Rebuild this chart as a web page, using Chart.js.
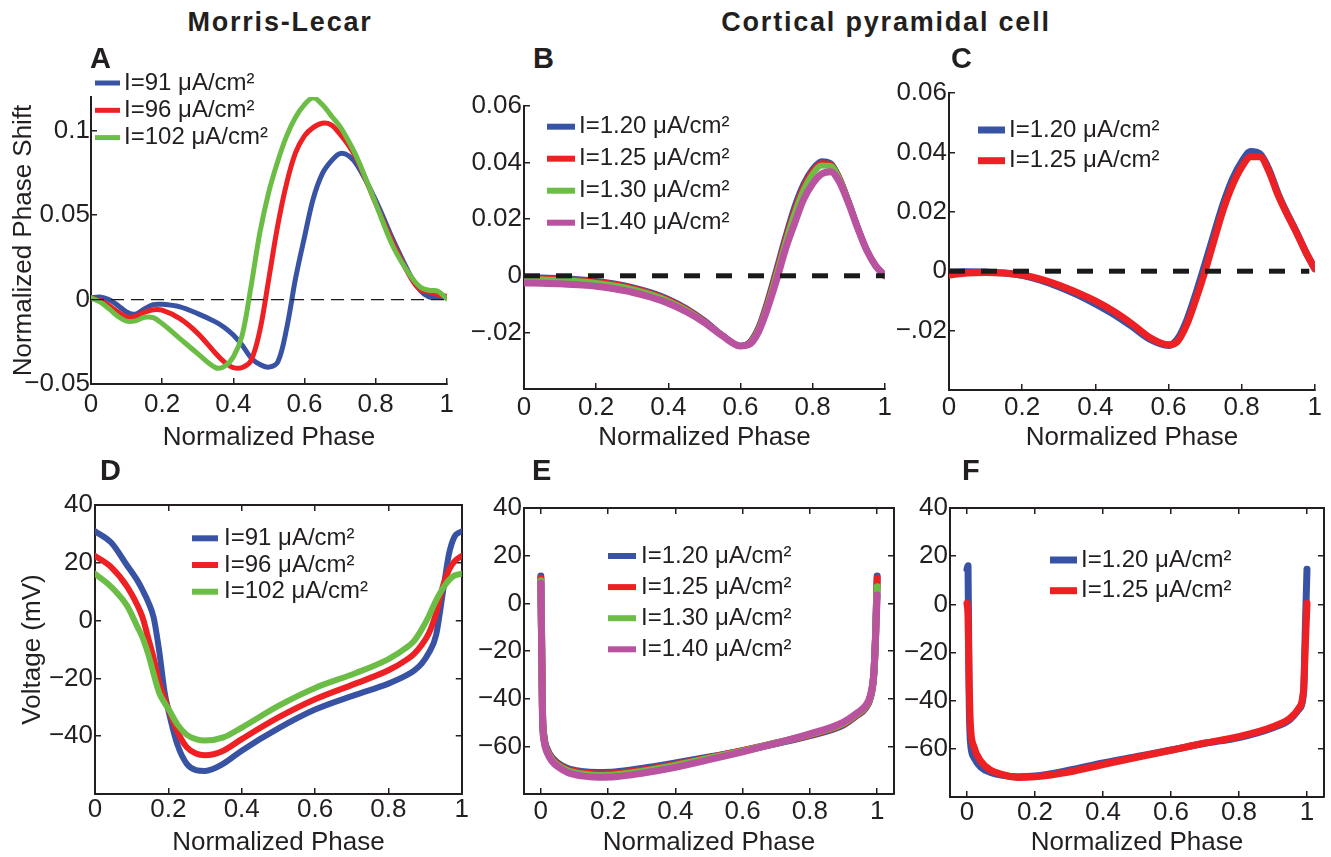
<!DOCTYPE html>
<html><head><meta charset="utf-8">
<script src="https://cdn.jsdelivr.net/npm/chart.js@4.4.0/dist/chart.umd.min.js"></script>
<style>
html,body{margin:0;padding:0;background:#fff;}
body{width:1331px;height:857px;overflow:hidden;position:relative;font-family:"Liberation Sans",Arial,Helvetica,sans-serif;color:#231f20;}
canvas{position:absolute;}
.hdr{position:absolute;width:600px;text-align:center;font-weight:bold;font-size:27px;line-height:27px;letter-spacing:1.8px;z-index:5;}
.lt{position:absolute;font-weight:bold;font-size:29px;line-height:29px;z-index:5;}
</style></head>
<body>
<div class="hdr" style="left:-20px;top:9px">Morris-Lecar</div>
<div class="hdr" style="left:586px;top:9px">Cortical pyramidal cell</div>
<div class="lt" style="left:90px;top:44px">A</div>
<div class="lt" style="left:533px;top:44px">B</div>
<div class="lt" style="left:951px;top:44px">C</div>
<div class="lt" style="left:100px;top:456px">D</div>
<div class="lt" style="left:532px;top:456px">E</div>
<div class="lt" style="left:962px;top:456px">F</div>
<script>
// ---------------- data ----------------
const BLUE = '#3953a4', RED = '#ed2024', GREEN = '#6cbd45', MAGENTA = '#b9529f';
const INK = '#231f20';
const FONT = '"Liberation Sans", Arial, Helvetica, sans-serif';

// Panel A : Morris-Lecar PRC
const phaseA = [0,0.025,0.05,0.075,0.1,0.125,0.15,0.175,0.2,0.25,0.3,0.35,0.375,0.4,0.425,0.45,0.475,0.5,0.525,0.55,0.575,0.6,0.625,0.65,0.675,0.7,0.725,0.75,0.8,0.85,0.9,0.925,0.95,0.975,1];
const shiftA91 = [0.001,0.0015,0,-0.0034,-0.0073,-0.0087,-0.0055,-0.003,-0.0028,-0.0043,-0.0083,-0.0132,-0.0165,-0.021,-0.027,-0.0345,-0.0385,-0.04,-0.037,-0.017,0.0126,0.037,0.06,0.0745,0.082,0.0865,0.085,0.079,0.059,0.035,0.0134,0.0055,0.0016,0.0015,0.0016];
const shiftA96 = [0.001,-0.0004,-0.0034,-0.0073,-0.0103,-0.0099,-0.0075,-0.006,-0.0063,-0.0113,-0.02,-0.0318,-0.037,-0.0403,-0.0402,-0.036,-0.018,0.0126,0.044,0.069,0.087,0.097,0.102,0.1045,0.1035,0.098,0.091,0.082,0.057,0.033,0.0125,0.006,0.0045,0.003,0.002];
const shiftA102 = [0.001,-0.0014,-0.0053,-0.0099,-0.0128,-0.0126,-0.0105,-0.0107,-0.0142,-0.0231,-0.032,-0.0403,-0.0395,-0.034,-0.021,0.008,0.04,0.064,0.082,0.097,0.108,0.1155,0.1195,0.1155,0.109,0.1024,0.0935,0.083,0.057,0.031,0.0134,0.0075,0.0055,0.005,0.0005];
const labelsML = ['I=91 \u03bcA/cm\u00b2','I=96 \u03bcA/cm\u00b2','I=102 \u03bcA/cm\u00b2'];

// Panel B : cortical PRC, four currents
const phaseB = [0,0.05,0.1,0.15,0.2,0.25,0.3,0.35,0.4,0.45,0.5,0.55,0.6,0.625,0.65,0.675,0.7,0.725,0.75,0.775,0.8,0.825,0.85,0.875,0.9,0.925,0.95,0.975,1];
const shiftB120 = [-0.0005,-0.0006,-0.0008,-0.0012,-0.0018,-0.0027,-0.004,-0.0058,-0.0082,-0.0115,-0.0158,-0.021,-0.0248,-0.0235,-0.0182,-0.0088,0.0025,0.014,0.0245,0.0325,0.0378,0.0405,0.0398,0.0345,0.0262,0.0172,0.0092,0.0035,0.0003];
const shiftB125 = [-0.0008,-0.0009,-0.0011,-0.0015,-0.0021,-0.003,-0.0043,-0.0061,-0.0085,-0.0118,-0.016,-0.0211,-0.0248,-0.0237,-0.0186,-0.0095,0.0015,0.013,0.0232,0.0315,0.037,0.0398,0.0394,0.0343,0.0261,0.0171,0.0091,0.0034,0.0002];
const shiftB130 = [-0.0012,-0.0013,-0.0015,-0.0019,-0.0025,-0.0034,-0.0047,-0.0065,-0.0089,-0.0121,-0.0162,-0.0211,-0.0248,-0.0239,-0.019,-0.0103,0.0005,0.0118,0.022,0.0303,0.036,0.039,0.0388,0.034,0.026,0.017,0.009,0.0034,0.0002];
const shiftB140 = [-0.0025,-0.0026,-0.0028,-0.0032,-0.0037,-0.0046,-0.0058,-0.0075,-0.0097,-0.0127,-0.0165,-0.0212,-0.0248,-0.0242,-0.0198,-0.0115,-0.0015,0.0095,0.0185,0.027,0.0325,0.036,0.0368,0.033,0.0255,0.0168,0.009,0.0035,0];
const labelsCort4 = ['I=1.20 \u03bcA/cm\u00b2','I=1.25 \u03bcA/cm\u00b2','I=1.30 \u03bcA/cm\u00b2','I=1.40 \u03bcA/cm\u00b2'];

// Panel C : cortical PRC, two currents
const phaseC = [0,0.05,0.1,0.15,0.2,0.25,0.3,0.35,0.4,0.45,0.5,0.55,0.6,0.625,0.65,0.675,0.7,0.725,0.75,0.775,0.8,0.825,0.85,0.875,0.9,0.925,0.95,0.975,1];
const shiftC120 = [-0.0003,-0.0002,-0.0003,-0.0006,-0.0014,-0.003,-0.0052,-0.0079,-0.011,-0.0145,-0.0186,-0.023,-0.025,-0.0228,-0.0165,-0.0075,0.0025,0.0128,0.0228,0.031,0.0368,0.0403,0.0395,0.0342,0.026,0.0193,0.0132,0.0066,0.0009];
const shiftC125 = [-0.0013,-0.0006,-0.0004,-0.0006,-0.0013,-0.0027,-0.0047,-0.0072,-0.01,-0.0135,-0.0177,-0.0224,-0.0248,-0.0236,-0.018,-0.0095,0,0.0105,0.0208,0.029,0.035,0.0385,0.0385,0.0335,0.0255,0.019,0.013,0.0065,0.0008];
const labelsCort2 = ['I=1.20 \u03bcA/cm\u00b2','I=1.25 \u03bcA/cm\u00b2'];

// Panel D : Morris-Lecar voltage
const phaseD = [0,0.044,0.088,0.115,0.13,0.145,0.16,0.175,0.19,0.2,0.225,0.25,0.275,0.3,0.35,0.4,0.5,0.6,0.71,0.8,0.85,0.87,0.89,0.91,0.93,0.95,0.965,0.98,1];
const voltD91 = [30.9,27,19,14,10.5,6.5,1,-10.5,-25,-31,-43,-49.5,-51.7,-52,-49.5,-45,-37.3,-30.8,-25.7,-21.8,-18.9,-17.3,-15,-11.2,-5,11,23,29,30.9];
const voltD96 = [22.4,18.5,11.7,5.5,1,-6,-13,-21.5,-27,-30.5,-38.5,-43.8,-46,-46.6,-45,-41,-33.5,-27.2,-21.8,-17.2,-13.5,-11.5,-8.5,-4.5,2.5,12.5,17.5,20.5,22.4];
const voltD102 = [16.2,11.7,5,-2,-6,-11.5,-18.5,-25,-28.5,-30.5,-36,-39.5,-41,-41.5,-40.4,-37,-29.5,-23.3,-18.2,-13.3,-9.3,-7,-3.2,1.5,7,11.5,14,15.6,16.2];

// Panel E : cortical voltage, four currents
const phaseE = [0,0.002,0.005,0.01,0.02,0.035,0.05,0.08,0.12,0.17,0.22,0.3,0.4,0.5,0.6,0.7,0.8,0.9,0.94,0.965,0.98,0.99,0.995,1];
const voltE120 = [11.5,-10,-45,-56,-61.5,-65,-67,-69.3,-70.5,-71,-70.8,-69.3,-67,-64.5,-61.8,-58.8,-55.5,-51,-47,-44,-39.5,-30,-14,11.5];
const voltE125 = [10.5,-11,-46,-57,-62,-65.5,-67.5,-69.8,-71,-71.6,-71.4,-70,-67.6,-64.8,-61.8,-58.6,-55.2,-50.6,-46.7,-43.7,-39.2,-29.7,-14.5,10.5];
const voltE130 = [9.5,-12,-47,-57.5,-62.5,-66,-68,-70.3,-71.6,-72.2,-72,-70.5,-68,-65,-62,-58.6,-55,-50.3,-46.4,-43.4,-38.9,-29.4,-15,7];
const voltE140 = [8.5,-13,-48,-58,-63,-66.5,-68.5,-71,-72.4,-73,-72.8,-71.3,-68.8,-65.6,-62.3,-58.7,-54.8,-49.8,-46,-43,-38.5,-29,-15,3.5];

// Panel F : cortical voltage, two currents
const phaseF = [0,0.003,0.006,0.01,0.02,0.04,0.07,0.1,0.15,0.2,0.3,0.4,0.5,0.6,0.7,0.8,0.9,0.95,0.975,0.99,0.995,1];
const voltF120 = [14.6,16,-35,-57,-63.5,-67.5,-69.8,-70.9,-71.6,-71.3,-68.9,-65.9,-63.2,-60.5,-57.7,-55.3,-51.2,-47.8,-43.8,-36.3,-10.5,14.6];
const voltF125 = [0.4,-5,-30,-50,-59,-65,-68.9,-70.5,-71.9,-71.6,-69.6,-66.5,-63.5,-60.6,-57.6,-54.9,-50.8,-47.3,-43.3,-35.5,-17,0.4];

// ticks
const xTicks01 = [0,0.2,0.4,0.6,0.8,1];
const xTickLabels01 = ['0','0.2','0.4','0.6','0.8','1'];
const yTicksA = [-0.05,0,0.05,0.1];
const yTickLabelsA = ['\u22120.05','0','0.05','0.1'];
const yTicksBC = [-0.02,0,0.02,0.04,0.06];
const yTickLabelsBC = ['\u2212.02','0','0.02','0.04','0.06'];
const yTicksD = [-40,-20,0,20,40];
const yTickLabelsD = ['\u221240','\u221220','0','20','40'];
const yTicksEF = [-60,-40,-20,0,20,40];
const yTickLabelsEF = ['\u221260','\u221240','\u221220','0','20','40'];

// ---------------- drawing ----------------
const inlineLegend = {
  id: 'inlineLegend',
  afterDraw(chart, args, o) {
    const items = chart.data.datasets.filter(d => d.label);
    const ctx = chart.ctx;
    ctx.save();
    ctx.font = '24px ' + FONT;
    ctx.textBaseline = 'middle';
    ctx.textAlign = 'left';
    items.forEach((d, k) => {
      const y = o.y + k * o.dy;
      ctx.strokeStyle = d.borderColor;
      ctx.lineWidth = o.lw;
      ctx.lineCap = 'butt';
      ctx.beginPath(); ctx.moveTo(o.x, y); ctx.lineTo(o.x + o.w, y); ctx.stroke();
      ctx.fillStyle = INK;
      ctx.fillText(d.label, o.x + o.w + o.gap, y);
    });
    ctx.restore();
  }
};

function pts(xs, ys) { return xs.map((x, i) => ({x: x, y: ys[i]})); }
function labelFor(vals, labs) {
  return v => { const i = vals.findIndex(t => Math.abs(t - v) < 1e-9); return i < 0 ? '' : labs[i]; };
}
function tickSetter(vals) { return s => { s.ticks = vals.map(v => ({value: v})); }; }

function makePanel(p) {
  const [L, T, R, B] = p.area;
  const cl = L - p.W, ct = T - p.padTop;
  const cw = p.W + (R - L) + p.padRight, ch = p.padTop + (B - T) + p.H;
  const cv = document.createElement('canvas');
  cv.width = cw; cv.height = ch;
  cv.style.left = cl + 'px'; cv.style.top = ct + 'px';
  cv.style.width = cw + 'px'; cv.style.height = ch + 'px';
  document.body.appendChild(cv);

  const n = p.series.length;
  const datasets = p.series.map((s, i) => ({
    label: s.label, data: pts(s.x, s.y), borderColor: s.color, backgroundColor: s.color,
    borderWidth: s.width, pointRadius: 0, fill: false,
    cubicInterpolationMode: p.tension ? 'default' : 'monotone', tension: p.tension || 0,
    borderJoinStyle: 'round', borderCapStyle: 'round', order: n - i + 1
  }));
  if (p.zero) {
    datasets.push({label: '', data: [{x: p.zero.x0, y: 0}, {x: p.zero.x1, y: 0}], borderColor: '#1a1a1a',
      borderWidth: p.zero.width, borderDash: p.zero.dash, pointRadius: 0, fill: false, order: 0, tension: 0});
  }
  const grid = {drawOnChartArea: false, drawTicks: true, tickLength: -6, color: INK, lineWidth: 1.5};
  const border = {display: true, color: INK, width: 2};
  const tickFont = {family: FONT, size: 26, lineHeight: 1};
  const scales = {
    x: {type: 'linear', position: 'bottom', min: p.xMin, max: p.xMax,
      afterFit: s => { s.height = p.H; }, afterBuildTicks: tickSetter(xTicks01),
      ticks: {autoSkip: false, maxRotation: 0, minRotation: 0, padding: p.xTickPad, font: tickFont, color: INK,
        callback: labelFor(xTicks01, xTickLabels01)},
      grid: grid, border: border,
      title: {display: true, text: 'Normalized Phase', color: INK, font: {family: FONT, size: 26, lineHeight: 1},
        padding: {top: 0, bottom: p.xTitlePad}}},
    y: {type: 'linear', position: 'left', min: p.yMin, max: p.yMax,
      afterFit: s => { s.width = p.W; }, afterBuildTicks: tickSetter(p.yTicks),
      ticks: {autoSkip: false, padding: p.yTickPad, font: tickFont, color: INK, callback: labelFor(p.yTicks, p.yLabels)},
      grid: grid, border: border,
      title: {display: !!p.yTitle, text: p.yTitle || '', color: INK, font: {family: FONT, size: 26, lineHeight: 1},
        padding: {top: p.yTitlePad || 0, bottom: 0}}}
  };
  if (p.box) {
    scales.x2 = {type: 'linear', position: 'top', min: p.xMin, max: p.xMax,
      afterFit: s => { s.height = 0; }, afterBuildTicks: tickSetter(xTicks01),
      ticks: {display: false}, grid: grid, border: border};
    scales.y2 = {type: 'linear', position: 'right', min: p.yMin, max: p.yMax,
      afterFit: s => { s.width = 0; }, afterBuildTicks: tickSetter(p.yTicks),
      ticks: {display: false}, grid: grid, border: border};
  }
  const lg = p.legend;
  new Chart(cv, {
    type: 'line',
    data: {datasets: datasets},
    options: {
      responsive: false, animation: false, devicePixelRatio: 1,
      layout: {padding: {left: 0, top: p.padTop, right: p.padRight, bottom: 0}},
      plugins: {legend: {display: false}, tooltip: {enabled: false},
        inlineLegend: {x: lg.x - cl, y: lg.y - ct, dy: lg.dy, w: lg.w, gap: lg.gap, lw: lg.lw}},
      scales: scales
    },
    plugins: [inlineLegend]
  });
}

Chart.defaults.font.family = FONT;
Chart.defaults.color = INK;

// A
makePanel({area: [91, 97, 456, 384], W: 91, H: 70, padTop: 30, padRight: 12, tension: 0.35,
  xMin: 0, xMax: 1, yMin: -0.05, yMax: 0.12, yTicks: yTicksA, yLabels: yTickLabelsA,
  xTickPad: 14, yTickPad: 7, xTitlePad: 3, yTitle: 'Normalized Phase Shift', yTitlePad: 11,
  series: [
    {x: phaseA, y: shiftA91, label: labelsML[0], color: BLUE, width: 5},
    {x: phaseA, y: shiftA96, label: labelsML[1], color: RED, width: 5},
    {x: phaseA, y: shiftA102, label: labelsML[2], color: GREEN, width: 5}],
  zero: {x0: 0, x1: 1, width: 1.3, dash: [13, 7]},
  legend: {x: 95, y: 83, dy: 27.3, w: 25, gap: 4, lw: 5}});

// B
makePanel({area: [524, 101, 892, 389], W: 80, H: 70, padTop: 16, padRight: 12,
  xMin: 0, xMax: 1, yMin: -0.04, yMax: 0.06, yTicks: yTicksBC, yLabels: yTickLabelsBC,
  xTickPad: 12, yTickPad: 8, xTitlePad: 8,
  series: [
    {x: phaseB, y: shiftB120, label: labelsCort4[0], color: BLUE, width: 6},
    {x: phaseB, y: shiftB125, label: labelsCort4[1], color: RED, width: 6},
    {x: phaseB, y: shiftB130, label: labelsCort4[2], color: GREEN, width: 6},
    {x: phaseB, y: shiftB140, label: labelsCort4[3], color: MAGENTA, width: 7}],
  zero: {x0: 0, x1: 1, width: 5, dash: [16, 16]},
  legend: {x: 547, y: 126.7, dy: 32, w: 28, gap: 4, lw: 6}});

// C
makePanel({area: [949, 88, 1323, 390], W: 80, H: 70, padTop: 16, padRight: 10,
  xMin: 0, xMax: 1, yMin: -0.04, yMax: 0.06, yTicks: yTicksBC, yLabels: yTickLabelsBC,
  xTickPad: 11, yTickPad: 8, xTitlePad: 9,
  series: [
    {x: phaseC, y: shiftC120, label: labelsCort2[0], color: BLUE, width: 7},
    {x: phaseC, y: shiftC125, label: labelsCort2[1], color: RED, width: 7}],
  zero: {x0: 0, x1: 0.985, width: 5, dash: [16, 16]},
  legend: {x: 978, y: 130, dy: 30.7, w: 27, gap: 4, lw: 7}});

// D
makePanel({area: [95, 500, 468, 794], W: 95, H: 62, padTop: 16, padRight: 10, box: true,
  xMin: 0, xMax: 1, yMin: -60, yMax: 40, yTicks: yTicksD, yLabels: yTickLabelsD,
  xTickPad: 9, yTickPad: 8, xTitlePad: 0, yTitle: 'Voltage (mV)', yTitlePad: 19.5,
  series: [
    {x: phaseD, y: voltD91, label: labelsML[0], color: BLUE, width: 6},
    {x: phaseD, y: voltD96, label: labelsML[1], color: RED, width: 6},
    {x: phaseD, y: voltD102, label: labelsML[2], color: GREEN, width: 6}],
  legend: {x: 192, y: 538.3, dy: 26.7, w: 26, gap: 6, lw: 6}});

// E
makePanel({area: [524, 503, 894, 794], W: 80, H: 62, padTop: 16, padRight: 10, box: true,
  xMin: -0.05, xMax: 1.05, yMin: -80, yMax: 40, yTicks: yTicksEF, yLabels: yTickLabelsEF,
  xTickPad: 10.7, yTickPad: 8, xTitlePad: 0,
  series: [
    {x: phaseE, y: voltE120, label: labelsCort4[0], color: BLUE, width: 7},
    {x: phaseE, y: voltE125, label: labelsCort4[1], color: RED, width: 7},
    {x: phaseE, y: voltE130, label: labelsCort4[2], color: GREEN, width: 7},
    {x: phaseE, y: voltE140, label: labelsCort4[3], color: MAGENTA, width: 7}],
  legend: {x: 608, y: 556, dy: 31.1, w: 28, gap: 5, lw: 6}});

// F
makePanel({area: [950, 503, 1324, 797], W: 80, H: 62, padTop: 16, padRight: 10, box: true,
  xMin: -0.05, xMax: 1.05, yMin: -80, yMax: 40, yTicks: yTicksEF, yLabels: yTickLabelsEF,
  xTickPad: 9, yTickPad: 8, xTitlePad: 3,
  series: [
    {x: phaseF, y: voltF120, label: labelsCort2[0], color: BLUE, width: 7},
    {x: phaseF, y: voltF125, label: labelsCort2[1], color: RED, width: 7}],
  legend: {x: 1050, y: 560, dy: 30.7, w: 27, gap: 4, lw: 7}});
</script>
</body></html>
